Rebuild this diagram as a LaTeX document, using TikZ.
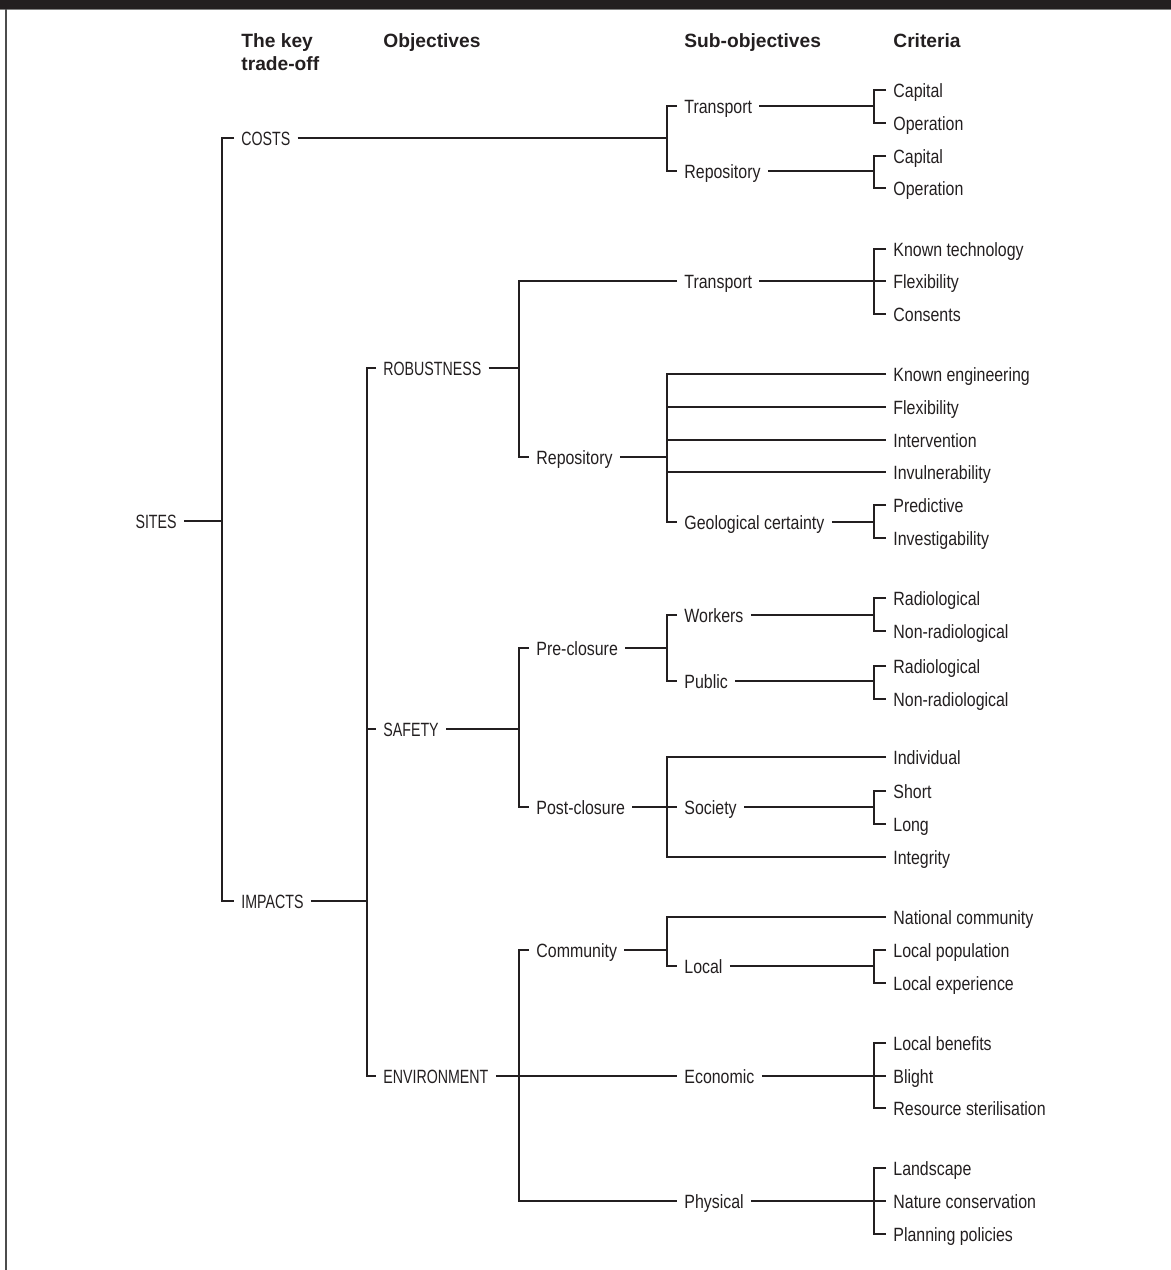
\documentclass[tikz,border=0pt]{standalone}
\usepackage{fontspec}
\setmainfont[FakeStretch=0.83]{Liberation Sans}
\newfontfamily\capsfont[FakeStretch=0.74]{Liberation Sans}
\newfontfamily\headfont{Liberation Sans}
\usetikzlibrary{calc}
\definecolor{ink}{HTML}{231F20}

\begin{document}
\begin{tikzpicture}[x=0.5pt,y=-0.5pt,
  lbl/.style={anchor=west,inner xsep=3.5pt,inner ysep=1pt,text height=7pt,text depth=0pt,font=\fontsize{9.6}{11}\selectfont,text=ink},
  lblc/.style={lbl,font=\capsfont\fontsize{9.6}{11}\selectfont},
  hdr/.style={anchor=north west,inner sep=0pt,align=left,font=\headfont\fontsize{9.6}{11.5}\selectfont\bfseries,text=ink},
  br/.style={line width=1.45pt,draw=ink}]
\useasboundingbox (0,0) rectangle (1171,1270);
\fill[ink] (0,0) rectangle (1171,9);
\draw[gray,line width=0.6pt] (0,9.5) -- (1171,9.5);
\draw[gray!60!black,line width=1pt] (5.5,9) -- (5.5,1270);

\node[hdr] (hKey) at (241,33) {The key\\trade-off};
\node[hdr] (hObj) at (383,33) {Objectives};
\node[hdr] (hSub) at (684,33) {Sub-objectives};
\node[hdr] (hCri) at (893,33) {Criteria};

\node[lblc,anchor=east] (sites) at (184,521) {SITES};
\node[lblc] (costs) at (234,138) {COSTS};
\node[lblc] (impacts) at (234,901) {IMPACTS};
\node[lblc] (rob) at (376,368) {ROBUSTNESS};
\node[lblc] (saf) at (376,729) {SAFETY};
\node[lblc] (env) at (376,1076) {ENVIRONMENT};

\node[lbl] (cTra) at (677,106) {Transport};
\node[lbl] (cRep) at (677,171) {Repository};
\node[lbl] (cTraCap) at (886,90) {Capital};
\node[lbl] (cTraOp) at (886,123) {Operation};
\node[lbl] (cRepCap) at (886,156) {Capital};
\node[lbl] (cRepOp) at (886,188) {Operation};

\node[lbl] (rTra) at (677,281) {Transport};
\node[lbl] (rRep) at (529,457) {Repository};
\node[lbl] (rTraKnown) at (886,249) {Known technology};
\node[lbl] (rTraFlex) at (886,281) {Flexibility};
\node[lbl] (rTraCons) at (886,314) {Consents};
\node[lbl] (rRepEng) at (886,374) {Known engineering};
\node[lbl] (rRepFlex) at (886,407) {Flexibility};
\node[lbl] (rRepInt) at (886,440) {Intervention};
\node[lbl] (rRepInv) at (886,472) {Invulnerability};
\node[lbl] (rGeo) at (677,522) {Geological certainty};
\node[lbl] (rGeoPre) at (886,505) {Predictive};
\node[lbl] (rGeoInv) at (886,538) {Investigability};

\node[lbl] (sPre) at (529,648) {Pre-closure};
\node[lbl] (sPost) at (529,807) {Post-closure};
\node[lbl] (sWork) at (677,615) {Workers};
\node[lbl] (sPub) at (677,681) {Public};
\node[lbl] (sWorkRad) at (886,598) {Radiological};
\node[lbl] (sWorkNon) at (886,631) {Non-radiological};
\node[lbl] (sPubRad) at (886,666) {Radiological};
\node[lbl] (sPubNon) at (886,699) {Non-radiological};
\node[lbl] (sInd) at (886,757) {Individual};
\node[lbl] (sSoc) at (677,807) {Society};
\node[lbl] (sIntg) at (886,857) {Integrity};
\node[lbl] (sShort) at (886,791) {Short};
\node[lbl] (sLong) at (886,824) {Long};

\node[lbl] (eCom) at (529,950) {Community};
\node[lbl] (eEco) at (677,1076) {Economic};
\node[lbl] (ePhy) at (677,1201) {Physical};
\node[lbl] (eNat) at (886,917) {National community};
\node[lbl] (eLoc) at (677,966) {Local};
\node[lbl] (eLocPop) at (886,950) {Local population};
\node[lbl] (eLocExp) at (886,983) {Local experience};
\node[lbl] (eBen) at (886,1043) {Local benefits};
\node[lbl] (eBli) at (886,1076) {Blight};
\node[lbl] (eRes) at (886,1108) {Resource sterilisation};
\node[lbl] (eLand) at (886,1168) {Landscape};
\node[lbl] (eCons) at (886,1201) {Nature conservation};
\node[lbl] (ePlan) at (886,1234) {Planning policies};

\coordinate (jSites) at (222,521);
\coordinate (jCosts) at (667,138);
\coordinate (jCTra) at (874,106);
\coordinate (jCRep) at (874,171);
\coordinate (jImp) at (367,901);
\coordinate (jRob) at (519,368);
\coordinate (jRTra) at (874,281);
\coordinate (jRRep) at (667,457);
\coordinate (jRGeo) at (874,522);
\coordinate (jSaf) at (519,729);
\coordinate (jSPre) at (667,648);
\coordinate (jSWork) at (874,615);
\coordinate (jSPub) at (874,681);
\coordinate (jSPost) at (667,807);
\coordinate (jSSoc) at (874,807);
\coordinate (jEnv) at (519,1076);
\coordinate (jECom) at (667,950);
\coordinate (jELoc) at (874,966);
\coordinate (jEEco) at (874,1076);
\coordinate (jEPhy) at (874,1201);

\draw[br] (sites.east) -- (jSites);
\draw[br] (costs.west) -| (jSites) |- (impacts.west);

\draw[br] (costs.east) -- (jCosts);
\draw[br] (cTra.west) -| (jCosts) |- (cRep.west);
\draw[br] (cTra.east) -- (jCTra);
\draw[br] (cTraCap.west) -| (jCTra) |- (cTraOp.west);
\draw[br] (cRep.east) -- (jCRep);
\draw[br] (cRepCap.west) -| (jCRep) |- (cRepOp.west);

\draw[br] (impacts.east) -- (jImp);
\draw[br] (rob.west) -| (jImp) |- (env.west);
\draw[br] (jImp |- saf.west) -- (saf.west);

\draw[br] (rob.east) -- (jRob);
\draw[br] (rTra.west) -| (jRob) |- (rRep.west);
\draw[br] (rTra.east) -- (rTraFlex.west);
\draw[br] (rTraKnown.west) -| (jRTra) |- (rTraCons.west);
\draw[br] (rRep.east) -- (jRRep);
\draw[br] (rRepEng.west) -| (jRRep) |- (rGeo.west);
\foreach \n in {rRepFlex,rRepInt,rRepInv}
  \draw[br] (jRRep |- \n.west) -- (\n.west);
\draw[br] (rGeo.east) -- (jRGeo);
\draw[br] (rGeoPre.west) -| (jRGeo) |- (rGeoInv.west);

\draw[br] (saf.east) -- (jSaf);
\draw[br] (sPre.west) -| (jSaf) |- (sPost.west);
\draw[br] (sPre.east) -- (jSPre);
\draw[br] (sWork.west) -| (jSPre) |- (sPub.west);
\draw[br] (sWork.east) -- (jSWork);
\draw[br] (sWorkRad.west) -| (jSWork) |- (sWorkNon.west);
\draw[br] (sPub.east) -- (jSPub);
\draw[br] (sPubRad.west) -| (jSPub) |- (sPubNon.west);
\draw[br] (sPost.east) -- (sSoc.west);
\draw[br] (sInd.west) -| (jSPost) |- (sIntg.west);
\draw[br] (sSoc.east) -- (jSSoc);
\draw[br] (sShort.west) -| (jSSoc) |- (sLong.west);

\draw[br] (env.east) -- (eEco.west);
\draw[br] (eCom.west) -| (jEnv) |- (ePhy.west);
\draw[br] (eCom.east) -- (jECom);
\draw[br] (eNat.west) -| (jECom) |- (eLoc.west);
\draw[br] (eLoc.east) -- (jELoc);
\draw[br] (eLocPop.west) -| (jELoc) |- (eLocExp.west);
\draw[br] (eEco.east) -- (eBli.west);
\draw[br] (eBen.west) -| (jEEco) |- (eRes.west);
\draw[br] (ePhy.east) -- (eCons.west);
\draw[br] (eLand.west) -| (jEPhy) |- (ePlan.west);
\end{tikzpicture}
\end{document}
